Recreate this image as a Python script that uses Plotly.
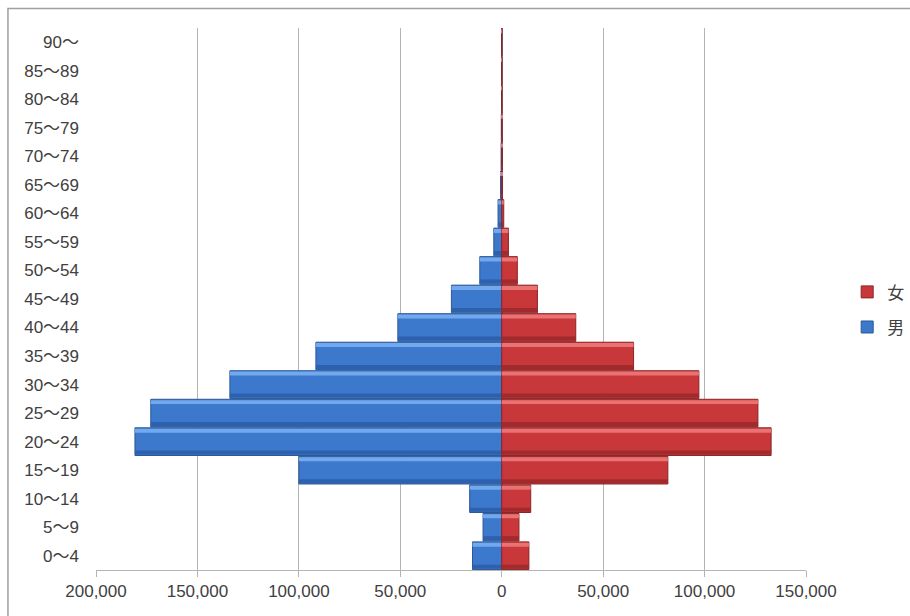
import plotly.graph_objects as go

# Age groups (bottom to top)
age_groups = ["0～4", "5～9", "10～14", "15～19", "20～24", "25～29", "30～34",
              "35～39", "40～44", "45～49", "50～54", "55～59", "60～64",
              "65～69", "70～74", "75～79", "80～84", "85～89", "90～"]

# Population by age group
male = [14400, 9200, 15800, 100000, 180800, 173000, 134000, 91600, 51200,
        24800, 10800, 3900, 1800, 600, 300, 200, 100, 50, 20]
female = [13400, 8500, 14300, 81900, 132800, 126300, 97200, 65000, 36500,
          17600, 7700, 3300, 1000, 400, 300, 200, 100, 50, 20]

# Axis ticks
tick_values = [-200000, -150000, -100000, -50000, 0, 50000, 100000, 150000]
tick_labels = ["200,000", "150,000", "100,000", "50,000", "0",
               "50,000", "100,000", "150,000"]

# Colours: body, top highlight, bottom shade, outline
BLUE = dict(body="#3c78cc", top="#72a8ee", bottom="#2d60ad", edge="#2b5894")
RED = dict(body="#c8383a", top="#ea7272", bottom="#a02a2c", edge="#8a2527")

BAR_W = 0.97
STRIP = 0.14

male_x = [-v for v in male]

fig = go.Figure()


def add_bevel_bar(x, name, rank, pal):
    # main bar (carries the legend entry)
    fig.add_trace(go.Bar(
        y=age_groups, x=x, orientation="h", name=name,
        legendgroup=name, legendrank=rank, width=BAR_W,
        marker=dict(color=pal["body"], line=dict(color=pal["edge"], width=1)),
        hovertemplate="%{y}: %{customdata:,}<extra>" + name + "</extra>",
        customdata=[abs(v) for v in x],
    ))
    # lighter strip along the upper edge
    fig.add_trace(go.Bar(
        y=age_groups, x=x, orientation="h", name=name, showlegend=False,
        legendgroup=name, width=STRIP, offset=BAR_W / 2 - STRIP - 0.03,
        marker=dict(color=pal["top"], line=dict(width=0)), hoverinfo="skip",
    ))
    # darker strip along the lower edge
    fig.add_trace(go.Bar(
        y=age_groups, x=x, orientation="h", name=name, showlegend=False,
        legendgroup=name, width=STRIP, offset=-BAR_W / 2 + 0.03,
        marker=dict(color=pal["bottom"], line=dict(width=0)), hoverinfo="skip",
    ))


add_bevel_bar(male_x, "男", 2, BLUE)
add_bevel_bar(female, "女", 1, RED)

font_family = "Liberation Sans Narrow, Liberation Sans, Noto Sans CJK JP"

fig.update_layout(
    width=910, height=616,
    margin=dict(l=96, r=104, t=28, b=46, autoexpand=False),
    paper_bgcolor="white", plot_bgcolor="white",
    barmode="overlay",
    font=dict(family=font_family, size=17, color="#404040"),
    showlegend=True,
    legend=dict(x=1.058, y=0.48, xanchor="left", yanchor="middle",
                traceorder="grouped", tracegroupgap=10,
                font=dict(size=17, color="#404040"),
                itemwidth=30, bgcolor="rgba(0,0,0,0)"),
    xaxis=dict(range=[-200000, 150000], tickvals=tick_values, ticktext=tick_labels,
               showgrid=True, gridcolor="#b4b4b4", gridwidth=1,
               zeroline=True, zerolinecolor="#808080", zerolinewidth=1.5,
               showline=True, linecolor="#b4b4b4", ticks="outside",
               tickcolor="#b4b4b4", ticklen=6, tickfont=dict(size=17)),
    yaxis=dict(showgrid=False, zeroline=False, showline=False, ticks="",
               ticklabelstandoff=16, tickfont=dict(size=17)),
    shapes=[dict(type="rect", xref="paper", yref="paper",
                 x0=-0.124, x1=1.3, y0=-0.2, y1=1.036,
                 line=dict(color="#a0a0a0", width=1.5), layer="below")],
)

fig.write_html("out.html")
